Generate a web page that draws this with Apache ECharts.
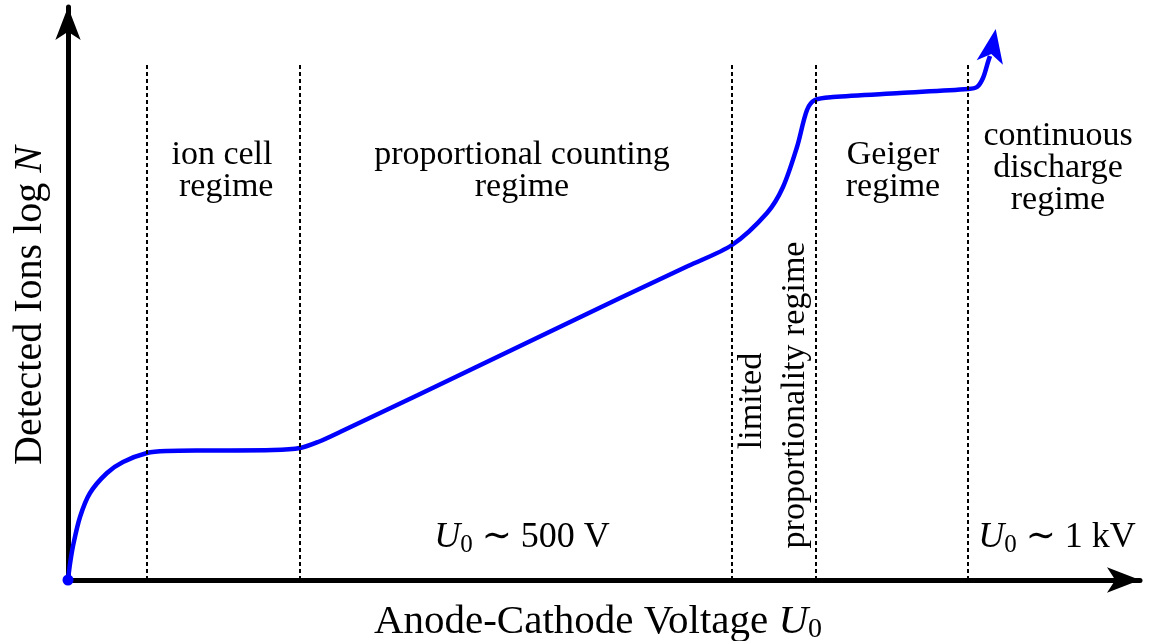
<!DOCTYPE html>
<html>
<head>
<meta charset="utf-8">
<script src="https://cdn.jsdelivr.net/npm/echarts@6/dist/echarts.min.js"></script>
<style>
  html, body { margin: 0; padding: 0; background: #fff; }
  #chart { width: 1150px; height: 641px; }
</style>
</head>
<body>
<div id="chart"></div>
<script>
// curve (arbitrary units: voltage vs log N)
const voltage = [0, 0.2, 0.5, 1.2, 2.2, 3.9, 5.5, 7.9, 9.9, 13.9, 20.5, 23.2, 25.0, 27.2, 35, 45, 55, 62, 66.4, 69.9, 71.5, 72.9, 73.9, 74.7, 76.5, 83.2, 90.0, 90.9, 91.5, 92.0, 92.2]
const logN = [0, 1.6, 3.4, 6.3, 8.7, 10.7, 11.8, 12.7, 12.9, 12.95, 13.0, 13.2, 13.8, 14.8, 18.5, 23.3, 28.1, 31.4, 33.5, 36.7, 39.3, 43.3, 47.0, 48.0, 48.3, 48.7, 49.1, 49.3, 50.2, 51.8, 52.4]

// regime boundaries (dotted lines)
const boundaries = [7.9, 23.2, 66.4, 74.8, 90.0]
const boundaryTop = 51.5

// tip of the arrow head at the curve end
const arrowTip = [92.77, 55.1]

const xMax = 107.2
const yMax = 57.3

const FONT = '"Liberation Serif", "DejaVu Serif", serif'

const curve = voltage.map((v, i) => [v, logN[i]])

const mathRich = {
  i: { fontFamily: FONT, fontSize: 36, fontStyle: 'italic', fill: '#000', lineHeight: 40 },
  s: { fontFamily: FONT, fontSize: 25, fill: '#000', verticalAlign: 'bottom', lineHeight: 30 },
  n: { fontFamily: FONT, fontSize: 36, fill: '#000', lineHeight: 40 },
}

const label = (x, y, text) => ({
  type: 'text', x, y,
  style: { text, font: '34px ' + FONT, fill: '#000', align: 'center', verticalAlign: 'middle', lineHeight: 32 },
})

const option = {
  animation: false,
  backgroundColor: '#fff',
  grid: { left: 68, right: 10, top: 7, bottom: 61, outerBoundsMode: 'none' },
  xAxis: {
    type: 'value',
    min: 0,
    max: xMax,
    name: '{n|Anode-Cathode Voltage }{i|U}{s|0}',
    nameLocation: 'middle',
    nameGap: 20,
    nameTextStyle: {
      padding: [0, 12, 0, 0],
      rich: {
        n: { fontFamily: FONT, fontSize: 41, color: '#000', lineHeight: 44 },
        i: { fontFamily: FONT, fontSize: 41, fontStyle: 'italic', color: '#000', lineHeight: 44 },
        s: { fontFamily: FONT, fontSize: 28, color: '#000', verticalAlign: 'bottom', lineHeight: 34 },
      },
    },
    axisLine: {
      show: true,
      symbol: ['none', 'arrow'],
      symbolSize: [19, 33],
      lineStyle: { color: '#000', width: 5 },
    },
    axisTick: { show: false },
    axisLabel: { show: false },
    splitLine: { show: false },
  },
  yAxis: {
    type: 'value',
    min: 0,
    max: yMax,
    name: '{n|Detected Ions log }{i|N}',
    nameLocation: 'middle',
    nameGap: 18,
    nameTextStyle: {
      padding: [0, 24, 0, 0],
      rich: {
        n: { fontFamily: FONT, fontSize: 40, color: '#000' },
        i: { fontFamily: FONT, fontSize: 40, fontStyle: 'italic', color: '#000' },
      },
    },
    axisLine: {
      show: true,
      symbol: ['none', 'arrow'],
      symbolSize: [19, 33],
      lineStyle: { color: '#000', width: 5 },
    },
    axisTick: { show: false },
    axisLabel: { show: false },
    splitLine: { show: false },
  },
  series: [
    {
      type: 'line',
      data: [],
      z: 1,
      markLine: {
        silent: true,
        symbol: 'none',
        label: { show: false },
        lineStyle: { color: '#000', width: 2, type: [4, 3] },
        data: boundaries.map(b => [{ coord: [b, 0] }, { coord: [b, boundaryTop] }]),
      },
    },
    {
      type: 'line',
      data: curve,
      smooth: 0.3,
      showSymbol: false,
      lineStyle: { color: '#0000ff', width: 4.5 },
      z: 3,
    },
    {
      type: 'scatter',
      data: [[voltage[0], logN[0]]],
      symbol: 'circle',
      symbolSize: 11,
      itemStyle: { color: '#0000ff', opacity: 1 },
      z: 4,
    },
    {
      type: 'scatter',
      data: [arrowTip],
      symbol: 'arrow',
      symbolSize: [20, 34],
      symbolRotate: -10,
      itemStyle: { color: '#0000ff', opacity: 1 },
      z: 4,
    },
  ],
  graphic: [
    label(222, 171, 'ion cell\n regime'),
    label(522, 171, 'proportional counting\nregime'),
    label(893, 171, 'Geiger\nregime'),
    label(1058, 168, 'continuous\ndischarge\nregime'),
    Object.assign(label(752, 401, 'limited'), { rotation: Math.PI / 2 }),
    Object.assign(label(795, 395, 'proportionality regime'), { rotation: Math.PI / 2 }),
    { type: 'text', x: 522, y: 538, style: { text: '{i|U}{s|0}{n| ∼ 500 V}', align: 'center', verticalAlign: 'middle', rich: mathRich } },
    { type: 'text', x: 1057, y: 538, style: { text: '{i|U}{s|0}{n| ∼ 1 kV}', align: 'center', verticalAlign: 'middle', rich: mathRich } },
  ],
}

const chart = echarts.init(document.getElementById('chart'))
chart.setOption(option)
</script>
</body>
</html>
